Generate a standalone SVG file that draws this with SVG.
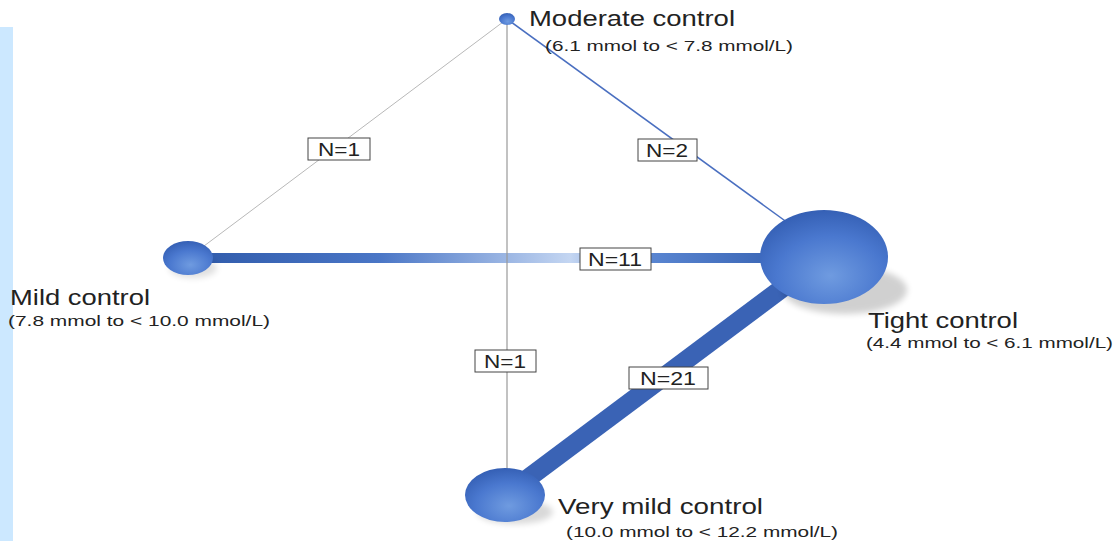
<svg xmlns="http://www.w3.org/2000/svg" width="1117" height="541" viewBox="0 0 1117 541">
<style>
.title{font-family:"Liberation Sans",Arial,sans-serif;font-size:22px;fill:#222}
.sub{font-family:"Liberation Sans",Arial,sans-serif;font-size:15px;fill:#222}
.lbl{font-family:"Liberation Sans",Arial,sans-serif;font-size:19px;fill:#222;text-anchor:middle}
.box{fill:#fff;stroke:#444;stroke-width:1}
</style>
<defs>
<radialGradient id="node" cx="0.55" cy="0.7" r="0.7">
<stop offset="0" stop-color="#6f9be0"/>
<stop offset="0.6" stop-color="#4a78cf"/>
<stop offset="1" stop-color="#3560b5"/>
</radialGradient>
<linearGradient id="h" x1="188" y1="0" x2="825" y2="0" gradientUnits="userSpaceOnUse">
<stop offset="0" stop-color="#2f5aaa"/>
<stop offset="0.3" stop-color="#4a76c6"/>
<stop offset="0.6" stop-color="#c4d6f2"/>
<stop offset="0.72" stop-color="#5a86d2"/>
<stop offset="1" stop-color="#2f5aaa"/>
</linearGradient>
<filter id="sh" x="-30%" y="-30%" width="160%" height="160%">
<feGaussianBlur stdDeviation="3"/>
</filter>
</defs>
<rect x="0" y="27" width="13" height="514" fill="#cce8ff"/>
<g id="connectors">
<line x1="507" y1="19" x2="188" y2="258" stroke="#b8b8b8" stroke-width="1"/>
<line x1="507" y1="19" x2="795" y2="228" stroke="#4a6fc0" stroke-width="1.5"/>
<line x1="188" y1="258" x2="825" y2="258" stroke="url(#h)" stroke-width="10"/>
<line x1="507" y1="19" x2="507" y2="475" stroke="#999" stroke-width="1.2"/>
<line x1="515" y1="488" x2="800" y2="275" stroke="#3a63b5" stroke-width="19"/>
<rect class="box" x="308" y="138" width="62" height="22"/>
<text class="lbl" x="339" y="156" textLength="42" lengthAdjust="spacingAndGlyphs">N=1</text>
<rect class="box" x="638" y="139" width="59" height="22"/>
<text class="lbl" x="667" y="157" textLength="42" lengthAdjust="spacingAndGlyphs">N=2</text>
<rect class="box" x="580" y="248" width="71" height="22"/>
<text class="lbl" x="615" y="266" textLength="54" lengthAdjust="spacingAndGlyphs">N=11</text>
<rect class="box" x="475" y="350" width="61" height="22"/>
<text class="lbl" x="505" y="368" textLength="42" lengthAdjust="spacingAndGlyphs">N=1</text>
<rect class="box" x="629" y="367" width="79" height="22"/>
<text class="lbl" x="668" y="385" textLength="56" lengthAdjust="spacingAndGlyphs">N=21</text>
</g>
<g id="moderate">
<ellipse cx="507" cy="19" rx="8" ry="6" fill="url(#node)"/>
<text class="title" x="529" y="26" textLength="206" lengthAdjust="spacingAndGlyphs">Moderate control</text>
<text class="sub" x="545" y="51" textLength="248" lengthAdjust="spacingAndGlyphs">(6.1 mmol to &lt; 7.8 mmol/L)</text>
</g>
<g id="mild">
<ellipse cx="193" cy="268" rx="24" ry="10" fill="#000" opacity="0.12" filter="url(#sh)"/>
<ellipse cx="188" cy="258" rx="25" ry="17" fill="url(#node)"/>
<text class="title" x="10" y="305" textLength="140" lengthAdjust="spacingAndGlyphs">Mild control</text>
<text class="sub" x="8" y="326" textLength="262" lengthAdjust="spacingAndGlyphs">(7.8 mmol to &lt; 10.0 mmol/L)</text>
</g>
<g id="tight">
<ellipse cx="845" cy="290" rx="62" ry="24" fill="#000" opacity="0.18" filter="url(#sh)"/>
<ellipse cx="824" cy="257" rx="64" ry="47" fill="url(#node)"/>
<text class="title" x="868" y="328" textLength="150" lengthAdjust="spacingAndGlyphs">Tight control</text>
<text class="sub" x="866" y="348" textLength="247" lengthAdjust="spacingAndGlyphs">(4.4 mmol to &lt; 6.1 mmol/L)</text>
</g>
<g id="verymild">
<ellipse cx="515" cy="512" rx="38" ry="12" fill="#000" opacity="0.15" filter="url(#sh)"/>
<ellipse cx="505" cy="495" rx="40" ry="27" fill="url(#node)"/>
<text class="title" x="558" y="514" textLength="205" lengthAdjust="spacingAndGlyphs">Very mild control</text>
<text class="sub" x="566" y="537" textLength="272" lengthAdjust="spacingAndGlyphs">(10.0 mmol to &lt; 12.2 mmol/L)</text>
</g>
</svg>
